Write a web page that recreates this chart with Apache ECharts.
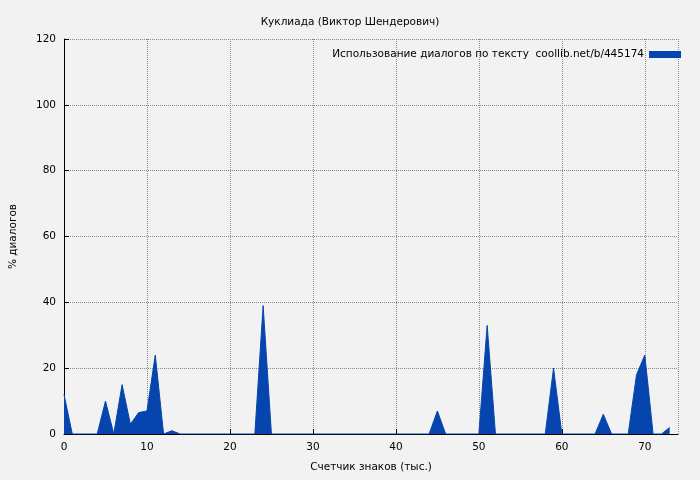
<!DOCTYPE html>
<html><head><meta charset="utf-8">
<script src="https://cdn.jsdelivr.net/npm/echarts@6/dist/echarts.min.js"></script>
<style>body{margin:0;background:#f2f2f2}#main{width:700px;height:480px}</style>
</head><body><div id="main"></div>
<script>
// % диалогов по тысячам знаков
var xs = [];
for (var i = 0; i <= 73; i++) xs.push(i);
var vals = [12,0,0,0,0,10,0,15,3,6.5,7,24,0,1,0,0,0,0,0,0,0,0,0,0,39,0,0,0,0,0,
  0,0,0,0,0,0,0,0,0,0,0,0,0,0,0,7,0,0,0,0,0,33,0,0,0,0,0,0,0,20,
  0,0,0,0,0,6,0,0,0,18,24,0,0,2];
var points = xs.map(function (x, i) { return [x, vals[i]]; });

var myChart = echarts.init(document.getElementById('main'));
var font = {fontFamily: 'DejaVu Sans', fontSize: 10.5, color: '#000'};
var option = {
    backgroundColor: '#f2f2f2',
    animation: false,
    title: {text: 'Куклиада (Виктор Шендерович)', left: 'center', top: 12,
        textStyle: {fontFamily: 'DejaVu Sans', fontSize: 10.5, fontWeight: 'normal', color: '#000'}},
    legend: {right: 14, top: 44, align: 'right', itemWidth: 32, itemHeight: 7, textStyle: font,
        data: [{name: 'Использование диалогов по тексту  coollib.net/b/445174', icon: 'rect'}]},
    grid: {left: 62, right: 22, top: 39, bottom: 46},
    xAxis: {type: 'value', min: 0, max: 74, interval: 10, name: 'Счетчик знаков (тыс.)',
        nameLocation: 'middle', nameGap: 28, nameTextStyle: font,
        axisLabel: Object.assign({showMaxLabel: false}, font),
        axisLine: {lineStyle: {color: '#000'}}, axisTick: {inside: true},
        splitLine: {lineStyle: {type: 'dotted', color: '#888'}}},
    yAxis: {type: 'value', min: 0, max: 120, interval: 20, name: '% диалогов',
        nameLocation: 'middle', nameGap: 45, nameTextStyle: font, axisLabel: font,
        axisLine: {show: true, lineStyle: {color: '#000'}}, axisTick: {show: true, inside: true},
        splitLine: {lineStyle: {type: 'dotted', color: '#888'}}},
    series: [{
        name: 'Использование диалогов по тексту  coollib.net/b/445174',
        type: 'line', data: points, symbol: 'none', color: '#0645ad',
        lineStyle: {width: 1, color: '#0645ad'}, areaStyle: {color: '#0645ad', opacity: 1}
    }]
};
myChart.setOption(option);
</script></body></html>
